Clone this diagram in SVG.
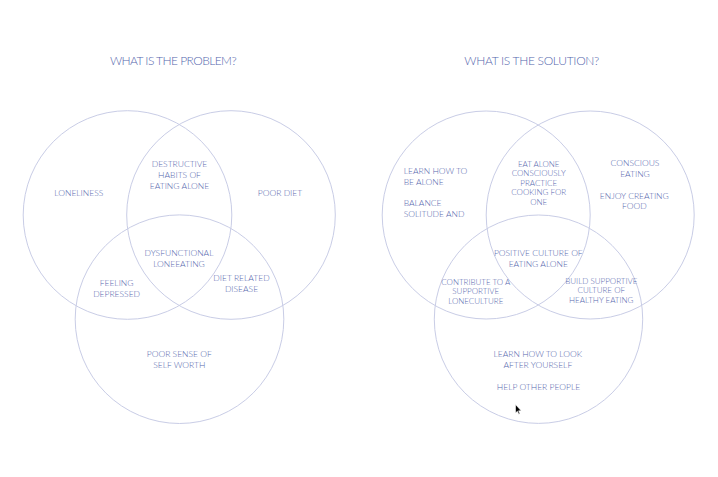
<svg xmlns="http://www.w3.org/2000/svg" width="718" height="477" viewBox="0 0 718 477">
<style>
.c{fill:none;stroke:#c9cde6;stroke-width:1}
text{font-family:Lato,"Open Sans","Liberation Sans",sans-serif;font-weight:300;fill:#5566ad;text-anchor:middle}
.t{font-size:12px}
.l{font-size:8.5px}
.s{font-size:8px}
.la{text-anchor:start}
</style>
<rect width="718" height="477" fill="#ffffff"/>
<g id="title-problem"><text class="t" x="173.3" y="65" textLength="126.7">WHAT IS THE PROBLEM?</text></g>
<g id="title-solution"><text class="t" x="531.8" y="65" textLength="135">WHAT IS THE SOLUTION?</text></g>

<g id="p-circle-left"><circle class="c" cx="127.5" cy="215" r="104.3"/></g>
<g id="p-circle-right"><circle class="c" cx="231" cy="215" r="104.3"/></g>
<g id="p-circle-bottom"><circle class="c" cx="179.5" cy="319.2" r="104.3"/></g>

<g id="p-loneliness"><text class="l" x="78.8" y="196">LONELINESS</text></g>
<g id="p-destructive"><text class="l" x="179.5" y="167.3">DESTRUCTIVE</text><text class="l" x="179.5" y="178">HABITS OF</text><text class="l" x="179.5" y="188.7">EATING ALONE</text></g>
<g id="p-poordiet"><text class="l" x="280" y="196">POOR DIET</text></g>
<g id="p-dysfunctional"><text class="l" x="179" y="256.3">DYSFUNCTIONAL</text><text class="l" x="179" y="266.7">LONEEATING</text></g>
<g id="p-feeling"><text class="l" x="116.6" y="286">FEELING</text><text class="l" x="116.6" y="296.7">DEPRESSED</text></g>
<g id="p-dietrelated"><text class="l" x="241.5" y="281">DIET RELATED</text><text class="l" x="241.5" y="291.7">DISEASE</text></g>
<g id="p-selfworth"><text class="l" x="179.3" y="357.3">POOR SENSE OF</text><text class="l" x="179.3" y="368">SELF WORTH</text></g>

<g id="s-circle-left"><circle class="c" cx="486.2" cy="215" r="104"/></g>
<g id="s-circle-right"><circle class="c" cx="590.2" cy="215" r="104"/></g>
<g id="s-circle-bottom"><circle class="c" cx="538.5" cy="319.2" r="104.2"/></g>

<g id="s-learnalone"><text class="l la" x="403.7" y="173.7">LEARN  HOW TO</text><text class="l la" x="403.7" y="184.7">BE ALONE</text><text class="l la" x="403.7" y="205.7">BALANCE</text><text class="l la" x="403.7" y="216.7">SOLITUDE AND</text></g>
<g id="s-eatalone"><text class="s" x="538.7" y="166.7">EAT ALONE</text><text class="s" x="538.7" y="175.9">CONSCIOUSLY</text><text class="s" x="538.7" y="185.7">PRACTICE</text><text class="s" x="538.7" y="195.1">COOKING FOR</text><text class="s" x="538.7" y="204.7">ONE</text></g>
<g id="s-conscious"><text class="l" x="635" y="166">CONSCIOUS</text><text class="l" x="635" y="176.7">EATING</text><text class="l" x="634.3" y="198.7">ENJOY CREATING</text><text class="l" x="634.3" y="209.3">FOOD</text></g>
<g id="s-positive"><text class="l" x="538.3" y="256">POSITIVE CULTURE OF</text><text class="l" x="538.3" y="266.7">EATING ALONE</text></g>
<g id="s-contribute"><text class="s" x="475.8" y="284.7">CONTRIBUTE TO A</text><text class="s" x="475.8" y="294.3">SUPPORTIVE</text><text class="s" x="475.8" y="303.7">LONECULTURE</text></g>
<g id="s-build"><text class="s" x="601.3" y="284">BUILD SUPPORTIVE</text><text class="s" x="601.3" y="293.3">CULTURE OF</text><text class="s" x="601.3" y="303">HEALTHY EATING</text></g>
<g id="s-lookafter"><text class="l" x="537.8" y="357.3">LEARN HOW TO LOOK</text><text class="l" x="537.8" y="367.7">AFTER YOURSELF</text><text class="l" x="538.5" y="390">HELP OTHER PEOPLE</text></g>

<path d="M515.5,404.5 L515.5,413 L517.4,411.2 L518.8,414.3 L519.9,413.8 L518.6,410.8 L521.2,410.8 Z" fill="#000" stroke="#fff" stroke-width="0.6"/>
</svg>
